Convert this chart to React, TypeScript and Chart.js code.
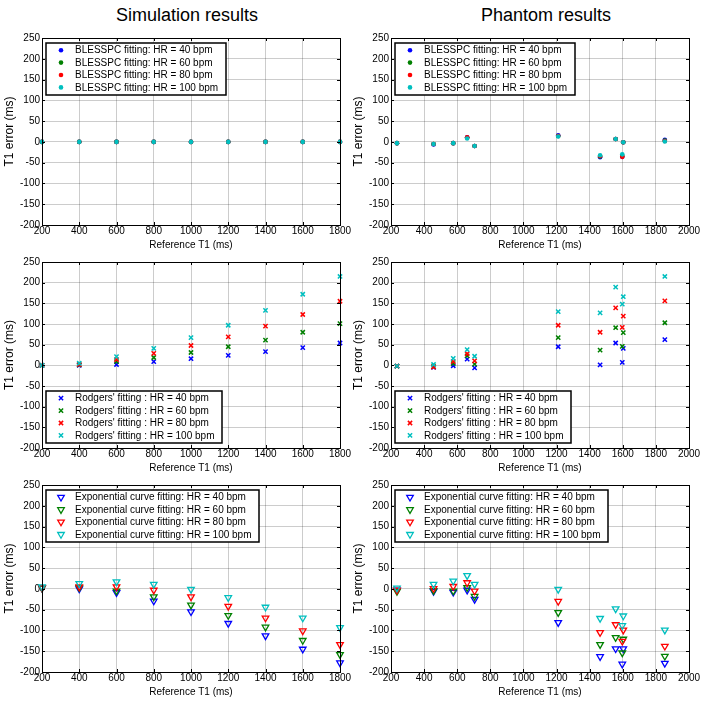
import React, { useEffect, useRef } from 'react';
import { Chart, registerables } from 'chart.js';

Chart.register(...registerables);

const FONT = '"Liberation Sans", Arial, Helvetica, sans-serif';

// ---------- data ----------
const hrLabels = ['40', '60', '80', '100'];
const seriesColors = ['rgb(0,0,255)', 'rgb(0,128,0)', 'rgb(255,0,0)', 'rgb(0,191,191)'];

const simT1 = [200, 400, 600, 800, 1000, 1200, 1400, 1600, 1800];
const phantomT1 = [236, 457, 576, 660, 705, 1210, 1463, 1557, 1597, 1603, 1854];

const xTicksSim = [200, 1800];
const xTicksPhantom = [200, 2000];
const yTicks = [-200, 250];

// Simulation – BLESSPC
const simBlesspc40 = [0, 0, 0, 0, 0, 0, 0, 0, 0];
const simBlesspc60 = [0, 0, 0, 0, 0, 0, 0, 0, 0];
const simBlesspc80 = [0, 0, 0, 0, 0, 0, 0, 0, 0];
const simBlesspc100 = [0, 0, 0, 0, 0, 0, 0, 0, 0];

// Simulation – Rodgers
const simRodgers40 = [0, 0, 2, 9, 16, 24, 33, 43, 54];
const simRodgers60 = [0, 1, 9, 19, 31, 45, 61, 80, 101];
const simRodgers80 = [0, 2, 14, 29, 48, 69, 95, 123, 155];
const simRodgers100 = [0, 5, 21, 41, 67, 97, 133, 172, 215];

// Simulation – Exponential
const simExp40 = [2, 0, -9, -29, -55, -83, -113, -145, -178];
const simExp60 = [2, 3, -5, -19, -39, -64, -92, -124, -158];
const simExp80 = [3, 5, 5, -3, -19, -42, -70, -101, -134];
const simExp100 = [5, 13, 17, 11, -1, -21, -44, -70, -93];

// Phantom – BLESSPC
const phBlesspc40 = [-3, -6, -3, 11, -10, 16, -37, 7, -36, -1, 5];
const phBlesspc60 = [-3, -5, -3, 10, -10, 14, -35, 7, -34, -1, 3];
const phBlesspc80 = [-3, -5, -3, 11, -10, 14, -34, 7, -36, -1, 2];
const phBlesspc100 = [-3, -5, -3, 8, -10, 13, -32, 7, -30, -1, 1];

// Phantom – Rodgers
const phRodgers40 = [-2, -5, -1, 15, -6, 45, 1, 54, 7, 41, 62];
const phRodgers60 = [-2, -3, 4, 23, 3, 67, 37, 91, 46, 79, 103];
const phRodgers80 = [-2, -4, 9, 28, 11, 97, 80, 139, 92, 119, 156];
const phRodgers100 = [-2, 2, 17, 38, 22, 130, 127, 189, 148, 166, 215];

// Phantom – Exponential
const phExp40 = [-3, -6, -8, -3, -25, -81, -163, -144, -181, -144, -179];
const phExp60 = [-6, -4, -5, 3, -18, -57, -134, -117, -154, -121, -162];
const phExp80 = [-3, 1, 6, 15, -5, -30, -105, -86, -126, -99, -138];
const phExp100 = [2, 11, 19, 32, 11, -1, -71, -48, -88, -65, -99];

const blesspcPrefix = 'BLESSPC fitting: HR = ';
const rodgersPrefix = "Rodgers' fitting : HR = ";
const expPrefix = 'Exponential curve fitting: HR = ';

// ---------- drawing helpers ----------
type Marker = 'dot' | 'x' | 'tri';

function drawMarker(ctx: CanvasRenderingContext2D, m: Marker, x: number, y: number, color: string) {
  ctx.save();
  if (m === 'dot') {
    ctx.fillStyle = color;
    ctx.beginPath();
    ctx.arc(x, y, 2.3, 0, Math.PI * 2);
    ctx.fill();
  } else if (m === 'x') {
    const h = 3 * 0.7071;
    ctx.strokeStyle = color;
    ctx.lineWidth = 1.5;
    ctx.beginPath();
    ctx.moveTo(x - h, y - h);
    ctx.lineTo(x + h, y + h);
    ctx.moveTo(x - h, y + h);
    ctx.lineTo(x + h, y - h);
    ctx.stroke();
  } else {
    const r = 3.8;
    ctx.strokeStyle = color;
    ctx.lineWidth = 1.3;
    ctx.beginPath();
    ctx.moveTo(x, y + r);
    ctx.lineTo(x - r * 0.866, y - r / 2);
    ctx.lineTo(x + r * 0.866, y - r / 2);
    ctx.closePath();
    ctx.stroke();
  }
  ctx.restore();
}

const frameLegendPlugin = {
  id: 'frameLegend',
  afterDraw(chart: any, _args: any, opts: any) {
    const ctx: CanvasRenderingContext2D = chart.ctx;
    const { left, top, right, bottom } = chart.chartArea;
    const a = (v: number) => Math.round(v) + 0.5;
    ctx.save();
    // inward tick marks
    ctx.strokeStyle = '#000';
    ctx.lineWidth = 1;
    const tl = 3;
    const xs = chart.scales.x;
    const ys = chart.scales.y;
    ctx.beginPath();
    xs.ticks.forEach((t: any) => {
      const px = a(xs.getPixelForValue(t.value));
      ctx.moveTo(px, bottom);
      ctx.lineTo(px, bottom - tl);
      ctx.moveTo(px, top);
      ctx.lineTo(px, top + tl);
    });
    ys.ticks.forEach((t: any) => {
      const py = a(ys.getPixelForValue(t.value));
      ctx.moveTo(left, py);
      ctx.lineTo(left + tl, py);
      ctx.moveTo(right, py);
      ctx.lineTo(right - tl, py);
    });
    ctx.stroke();
    // box
    ctx.strokeRect(a(left), a(top), Math.round(right) - Math.round(left), Math.round(bottom) - Math.round(top));

    // legend
    ctx.font = `10px ${FONT}`;
    const labels: string[] = chart.data.datasets.map((d: any) => d.label);
    const colors: string[] = chart.data.datasets.map((d: any) => d.pointBorderColor);
    const maxW = Math.max(...labels.map((l) => ctx.measureText(l).width));
    const rowH = 12.4;
    const bh = Math.round(4 * rowH + 2);
    const bw = Math.round(29 + maxW + 8);
    const bx = Math.round(left) + 4;
    const by = opts.at === 'top' ? Math.round(top) + 5 : Math.round(bottom) - 5 - bh;
    ctx.fillStyle = '#fff';
    ctx.fillRect(bx, by, bw, bh);
    ctx.lineWidth = 1.5;
    ctx.strokeStyle = '#000';
    ctx.strokeRect(bx, by, bw, bh);
    labels.forEach((l, i) => {
      const cy = by + 1 + rowH * (i + 0.5);
      drawMarker(ctx, opts.marker, bx + 15, cy, colors[i]);
      ctx.fillStyle = '#000';
      ctx.textAlign = 'left';
      ctx.textBaseline = 'middle';
      ctx.fillText(l, bx + 29, cy + 0.5);
    });
    ctx.restore();
  },
};

// ---------- panel ----------
type PanelProps = {
  canvasLeft: number;
  canvasTop: number;
  canvasRight: number;
  plotLeft: number;
  plotTop: number;
  plotRight: number;
  plotBottom: number;
  yTitlePad: number;
  xRange: number[];
  xValues: number[];
  series: number[][];
  prefix: string;
  marker: Marker;
  legendAt: 'top' | 'bottom';
};

function Panel(p: PanelProps) {
  const ref = useRef<HTMLCanvasElement | null>(null);
  const width = p.canvasRight - p.canvasLeft;
  const xAxisH = 27;
  const height = p.plotBottom + xAxisH - p.canvasTop;

  useEffect(() => {
    if (!ref.current) return;
    const pointStyle = p.marker === 'dot' ? 'circle' : p.marker === 'x' ? 'crossRot' : 'triangle';
    const n = p.series.length;
    const datasets = p.series.map((vals, i) => ({
      label: p.prefix + hrLabels[i] + ' bpm',
      data: vals.map((v, j) => ({ x: p.xValues[j], y: v })),
      order: n - 1 - i,
      pointStyle,
      pointRadius: p.marker === 'dot' ? 2.3 : p.marker === 'x' ? 3 : 3.8,
      pointHoverRadius: p.marker === 'dot' ? 2.3 : p.marker === 'x' ? 3 : 3.8,
      pointBorderWidth: p.marker === 'dot' ? 0 : p.marker === 'x' ? 1.5 : 1.3,
      pointBorderColor: seriesColors[i],
      pointBackgroundColor: p.marker === 'dot' ? seriesColors[i] : 'rgba(0,0,0,0)',
      pointRotation: p.marker === 'tri' ? 180 : 0,
      showLine: false,
      clip: false as any,
    }));
    const gridColor = 'rgba(0,0,0,0.2)';
    const chart = new Chart(ref.current, {
      type: 'scatter',
      data: { datasets },
      options: {
        animation: false,
        responsive: false,
        maintainAspectRatio: false,
        devicePixelRatio: 1,
        events: [],
        layout: {
          padding: { left: 0, top: p.plotTop - p.canvasTop, right: p.canvasRight - p.plotRight, bottom: 0 },
        },
        plugins: {
          legend: { display: false },
          tooltip: { enabled: false },
          frameLegend: { at: p.legendAt, marker: p.marker },
        } as any,
        scales: {
          x: {
            type: 'linear',
            min: p.xRange[0],
            max: p.xRange[1],
            afterFit: (s: any) => {
              s.height = xAxisH;
            },
            ticks: {
              stepSize: 200,
              autoSkip: false,
              maxRotation: 0,
              padding: 0,
              color: '#000',
              font: { family: FONT, size: 10 },
              callback: (v: any) => String(v),
            },
            grid: { color: gridColor, lineWidth: 1, drawTicks: false },
            border: { display: false },
            title: {
              display: true,
              text: 'Reference T1 (ms)',
              color: '#000',
              font: { family: FONT, size: 10, lineHeight: 1 },
              padding: { top: 0, bottom: 2 },
            },
          },
          y: {
            type: 'linear',
            min: yTicks[0],
            max: yTicks[1],
            afterFit: (s: any) => {
              s.width = p.plotLeft - p.canvasLeft;
            },
            ticks: {
              stepSize: 50,
              autoSkip: false,
              padding: 2,
              color: '#000',
              font: { family: FONT, size: 10 },
              callback: (v: any) => String(v),
            },
            grid: { color: gridColor, lineWidth: 1, drawTicks: false },
            border: { display: false },
            title: {
              display: true,
              text: 'T1 error (ms)',
              color: '#000',
              font: { family: FONT, size: 12, lineHeight: 1 },
              padding: { top: p.yTitlePad, bottom: 0 },
            },
          },
        } as any,
      },
      plugins: [frameLegendPlugin],
    });
    return () => chart.destroy();
  }, []);

  return (
    <canvas
      ref={ref}
      width={width}
      height={height}
      style={{ position: 'absolute', left: p.canvasLeft, top: p.canvasTop, width, height, display: 'block' }}
    />
  );
}

const leftCol = { canvasLeft: 0, canvasRight: 352, plotLeft: 42, plotRight: 340, yTitlePad: 4, xRange: xTicksSim, xValues: simT1 };
const rightCol = { canvasLeft: 352, canvasRight: 708, plotLeft: 391, plotRight: 689, yTitlePad: 1, xRange: xTicksPhantom, xValues: phantomT1 };
const rows = [
  { canvasTop: 28, plotTop: 38, plotBottom: 225 },
  { canvasTop: 252, plotTop: 262, plotBottom: 448 },
  { canvasTop: 475, plotTop: 485, plotBottom: 672 },
];

export default function App() {
  const titleStyle = (cx: number): React.CSSProperties => ({
    position: 'absolute',
    left: cx - 120,
    width: 240,
    top: 6,
    textAlign: 'center',
    fontFamily: FONT,
    fontSize: 18,
    lineHeight: '18px',
    color: '#000',
    whiteSpace: 'nowrap',
  });
  return (
    <div style={{ position: 'fixed', left: 0, top: 0, width: 708, height: 704, background: '#fff', overflow: 'hidden' }}>
      <div style={titleStyle(187)}>Simulation results</div>
      <div style={titleStyle(546)}>Phantom results</div>

      <Panel {...leftCol} {...rows[0]} series={[simBlesspc40, simBlesspc60, simBlesspc80, simBlesspc100]} prefix={blesspcPrefix} marker="dot" legendAt="top" />
      <Panel {...rightCol} {...rows[0]} series={[phBlesspc40, phBlesspc60, phBlesspc80, phBlesspc100]} prefix={blesspcPrefix} marker="dot" legendAt="top" />

      <Panel {...leftCol} {...rows[1]} series={[simRodgers40, simRodgers60, simRodgers80, simRodgers100]} prefix={rodgersPrefix} marker="x" legendAt="bottom" />
      <Panel {...rightCol} {...rows[1]} series={[phRodgers40, phRodgers60, phRodgers80, phRodgers100]} prefix={rodgersPrefix} marker="x" legendAt="bottom" />

      <Panel {...leftCol} {...rows[2]} series={[simExp40, simExp60, simExp80, simExp100]} prefix={expPrefix} marker="tri" legendAt="top" />
      <Panel {...rightCol} {...rows[2]} series={[phExp40, phExp60, phExp80, phExp100]} prefix={expPrefix} marker="tri" legendAt="top" />
    </div>
  );
}
